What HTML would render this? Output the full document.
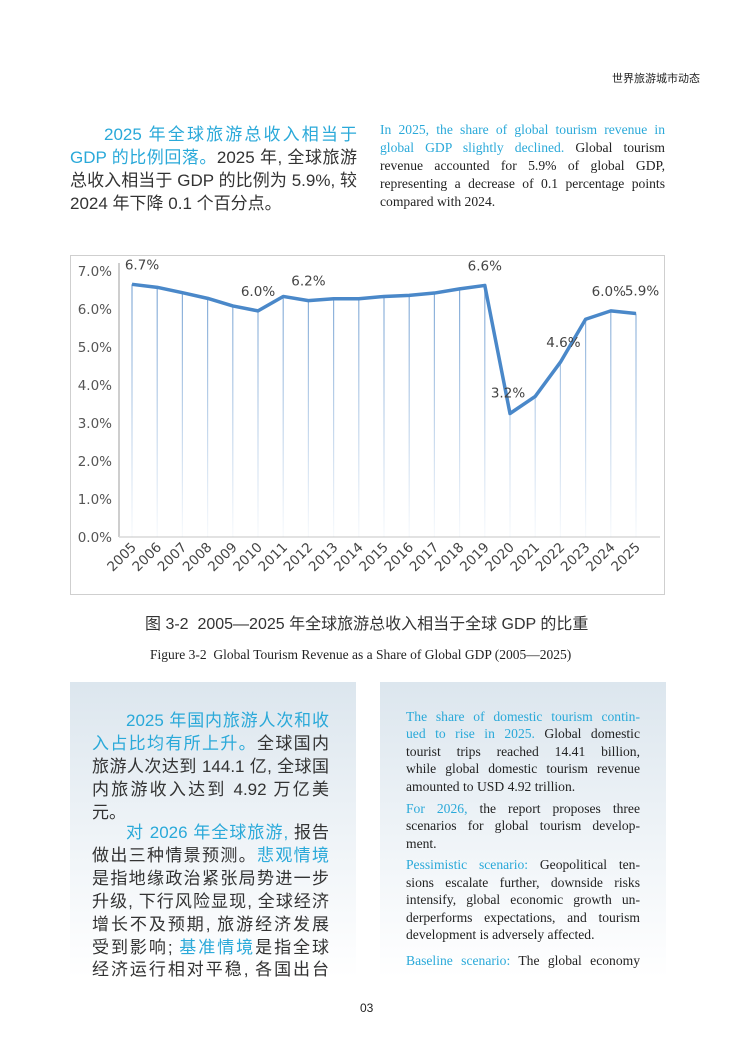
<!DOCTYPE html>
<html><head><meta charset="utf-8">
<style>
body{margin:0;background:#fff;}
#page{position:relative;width:735px;height:1040px;overflow:hidden;background:#fff;font-family:"Liberation Sans","Noto Sans CJK SC",sans-serif;color:#333;}
.abs{position:absolute;}
.cn{font-family:"Liberation Sans","Noto Sans CJK SC",sans-serif;font-size:17px;color:#333;}
.cyan{color:#2aa9d9;}
.en{font-family:"Liberation Serif","Noto Serif CJK SC",serif;font-size:13.6px;color:#222;}
.ln{position:absolute;white-space:nowrap;text-align:justify;text-align-last:justify;}
.box{position:absolute;background:linear-gradient(#dce6ee,#eef3f7 50%,#fff 100%);}
</style></head><body>
<div id="page">
<div class="abs" style="left:612px;top:70px;font-size:11px;font-family:'Liberation Sans','Noto Sans CJK SC',sans-serif;color:#222;">世界旅游城市动态</div>

<div class="cn">
<div class="ln" style="left:104px;top:120px;width:253px;"><span class="cyan">2025 年全球旅游总收入相当于</span></div>
<div class="ln" style="left:70px;top:143px;width:287px;"><span class="cyan">GDP 的比例回落。</span>2025 年, 全球旅游</div>
<div class="ln" style="left:70px;top:166px;width:287px;">总收入相当于 GDP 的比例为 5.9%, 较</div>
<div class="ln" style="left:70px;top:189px;text-align-last:left;">2024 年下降 0.1 个百分点。</div>
</div>

<div class="en">
<div class="ln" style="left:380px;top:122px;width:285px;"><span class="cyan">In 2025, the share of global tourism revenue in</span></div>
<div class="ln" style="left:380px;top:140px;width:285px;"><span class="cyan">global GDP slightly declined.</span> Global tourism</div>
<div class="ln" style="left:380px;top:158px;width:285px;">revenue accounted for 5.9% of global GDP,</div>
<div class="ln" style="left:380px;top:176px;width:285px;">representing a decrease of 0.1 percentage points</div>
<div class="ln" style="left:380px;top:194px;text-align-last:left;">compared with 2024.</div>
</div>

<svg class="abs" style="left:0;top:0" width="735" height="620" id="chart">
<defs><linearGradient id="dl" gradientUnits="userSpaceOnUse" x1="0" y1="280" x2="0" y2="537"><stop offset="0" stop-color="#7fa8d6"/><stop offset="1" stop-color="#7fa8d6" stop-opacity="0.05"/></linearGradient></defs>
<rect x="70.5" y="255.5" width="594" height="339" fill="#fff" stroke="#cfcfcf"/>
</svg>

<div class="abs" style="left:145px;top:610px;font-size:16px;color:#333;white-space:nowrap;">图 3-2&nbsp; 2005—2025 年全球旅游总收入相当于全球 GDP 的比重</div>
<div class="abs" style="left:150px;top:647px;font-family:'Liberation Serif',serif;font-size:13.5px;color:#222;white-space:nowrap;">Figure 3-2&nbsp; Global Tourism Revenue as a Share of Global GDP (2005—2025)</div>

<div class="box" style="left:70px;top:682px;width:286px;height:296px;"></div>
<div class="box" style="left:380px;top:682px;width:286px;height:296px;"></div>

<div class="cn">
<div class="ln" style="left:126px;top:706px;width:203px;"><span class="cyan">2025 年国内旅游人次和收</span></div>
<div class="ln" style="left:92px;top:729px;width:237px;"><span class="cyan">入占比均有所上升。</span>全球国内</div>
<div class="ln" style="left:92px;top:752px;width:237px;">旅游人次达到 144.1 亿, 全球国</div>
<div class="ln" style="left:92px;top:775px;width:237px;">内旅游收入达到 4.92 万亿美</div>
<div class="ln" style="left:92px;top:798px;text-align-last:left;">元。</div>
<div class="ln" style="left:126px;top:818px;width:203px;"><span class="cyan">对 2026 年全球旅游,</span> 报告</div>
<div class="ln" style="left:92px;top:841px;width:237px;">做出三种情景预测。<span class="cyan">悲观情境</span></div>
<div class="ln" style="left:92px;top:864px;width:237px;">是指地缘政治紧张局势进一步</div>
<div class="ln" style="left:92px;top:887px;width:237px;">升级, 下行风险显现, 全球经济</div>
<div class="ln" style="left:92px;top:910px;width:237px;">增长不及预期, 旅游经济发展</div>
<div class="ln" style="left:92px;top:933px;width:237px;">受到影响; <span class="cyan">基准情境</span>是指全球</div>
<div class="ln" style="left:92px;top:955px;width:237px;">经济运行相对平稳, 各国出台</div>
</div>

<div class="en">
<div class="ln" style="left:406px;top:709px;width:234px;"><span class="cyan">The share of domestic tourism contin-</span></div>
<div class="ln" style="left:406px;top:726px;width:234px;"><span class="cyan">ued to rise in 2025.</span> Global domestic</div>
<div class="ln" style="left:406px;top:744px;width:234px;">tourist trips reached 14.41 billion,</div>
<div class="ln" style="left:406px;top:761px;width:234px;">while global domestic tourism revenue</div>
<div class="ln" style="left:406px;top:779px;text-align-last:left;">amounted to USD 4.92 trillion.</div>
<div class="ln" style="left:406px;top:801px;width:234px;"><span class="cyan">For 2026,</span> the report proposes three</div>
<div class="ln" style="left:406px;top:818px;width:234px;">scenarios for global tourism develop-</div>
<div class="ln" style="left:406px;top:836px;text-align-last:left;">ment.</div>
<div class="ln" style="left:406px;top:857px;width:234px;"><span class="cyan">Pessimistic scenario:</span> Geopolitical ten-</div>
<div class="ln" style="left:406px;top:875px;width:234px;">sions escalate further, downside risks</div>
<div class="ln" style="left:406px;top:892px;width:234px;">intensify, global economic growth un-</div>
<div class="ln" style="left:406px;top:910px;width:234px;">derperforms expectations, and tourism</div>
<div class="ln" style="left:406px;top:927px;text-align-last:left;">development is adversely affected.</div>
<div class="ln" style="left:406px;top:953px;width:234px;"><span class="cyan">Baseline scenario:</span> The global economy</div>
</div>

<div class="abs" style="left:360px;top:1001px;font-size:12px;color:#222;">03</div>
</div>
<script>
const years=["2005","2006","2007","2008","2009","2010","2011","2012","2013","2014","2015","2016","2017","2018","2019","2020","2021","2022","2023","2024","2025"];
const values=[6.65,6.57,6.43,6.28,6.08,5.95,6.33,6.22,6.27,6.27,6.33,6.36,6.42,6.53,6.62,3.25,3.7,4.6,5.73,5.95,5.88];
const yTicks=[0,1,2,3,4,5,6,7];
const labelIdx=[0,5,7,14,15,17,19,20];
const labelText=["6.7%","6.0%","6.2%","6.6%","3.2%","4.6%","6.0%","5.9%"];
const NS="http://www.w3.org/2000/svg";
const svg=document.getElementById('chart');
const X=i=>132+i*(636-132)/(years.length-1);
const Y=v=>537-v*(537-271)/7;
function mk(t,a){const e=document.createElementNS(NS,t);for(const k in a)e.setAttribute(k,a[k]);svg.appendChild(e);return e;}
const ax=mk('line',{x1:119,y1:263,x2:119,y2:537,stroke:'#bdbdbd','stroke-width':1.5});


const bx=mk('line',{x1:119,y1:537,x2:660,y2:537,stroke:'#d8d8d8','stroke-width':1.5});


yTicks.forEach(v=>{
  const t=mk('text',{x:112,y:Y(v)+5,'text-anchor':'end','font-size':13.5,fill:'#555','font-family':'DejaVu Sans, sans-serif'});
  t.textContent=v.toFixed(1)+'%';
  
  
});
values.forEach((v,i)=>{
  const d=mk('line',{x1:X(i),y1:Y(v),x2:X(i),y2:537,stroke:'url(#dl)','stroke-width':1.2});
  
  
  const t=mk('text',{x:0,y:0,'text-anchor':'end','font-size':13.5,fill:'#444','font-family':'DejaVu Sans, sans-serif',transform:`translate(${X(i)+5},${548}) rotate(-45)`});
  t.textContent=years[i];
  
  
});
const pl=mk('polyline',{points:values.map((v,i)=>X(i)+','+Y(v)).join(' '),fill:'none',stroke:'#4a88c9','stroke-width':3.5,'stroke-linejoin':'round'});


const ldx=[10,0,0,0,-2,3,0,0];
const ldy=[-15,-15,-15,-15,-16,-15,-15,-15];
labelIdx.forEach((i,k)=>{
  let x=X(i)+ldx[k],y=Y(values[i])+ldy[k];
  if(i===20){x=X(i)+6;y=Y(values[i])-18;}
  if(i===19){x=X(i)-2;}
  const t=mk('text',{x:x,y:y,'text-anchor':'middle','font-size':13.5,fill:'#444','font-family':'DejaVu Sans, sans-serif'});
  t.textContent=labelText[k];
  
  
});
</script>
</body></html>
